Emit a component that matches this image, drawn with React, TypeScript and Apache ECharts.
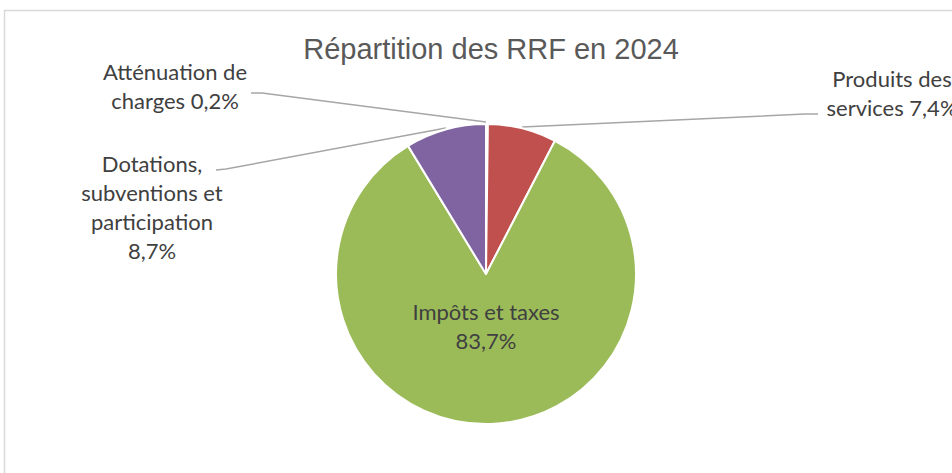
import React, { useEffect, useRef } from "react";
import * as echarts from "echarts";

const TITLE = "Répartition des RRF en 2024";
const categories = [
  "Atténuation de charges",
  "Produits des services",
  "Impôts et taxes",
  "Dotations, subventions et participation",
];
const values = [0.2, 7.4, 83.7, 8.7];
const colors = ["#4F81BD", "#C0504D", "#9BBB59", "#8064A2"];
// how each label is broken into lines (text before the value)
const labelTexts = [
  "Atténuation de\ncharges ",
  "Produits des\nservices ",
  "Impôts et taxes\n",
  "Dotations,\nsubventions et\nparticipation\n",
];

const fmtPct = (v: number) => v.toFixed(1).replace(".", ",") + "%";

export default function App() {
  const ref = useRef<HTMLDivElement>(null);
  useEffect(() => {
    if (!ref.current) return;
    const chart = echarts.init(ref.current, undefined, { renderer: "svg" });
    const cx = 486;
    const cy = 274;
    const layouts: any[] = [
      { x: 175, y: 86, align: "center", pts: [[251, 93], [262, 93], [486, 122]] },
      { x: 892, y: 93, align: "center", pts: [[818, 114], [805, 114], [522, 127]] },
      { x: 486, y: 326, align: "center", pts: null },
      { x: 152, y: 207, align: "center", pts: [[216, 170], [226, 169], [446, 128]] },
    ];
    chart.setOption({
      animation: false,
      title: {
        text: TITLE,
        left: 486,
        textAlign: "center",
        top: 29,
        textStyle: {
          fontFamily: "Liberation Sans",
          fontSize: 29,
          fontWeight: "normal",
          color: "#595959",
        },
      },
      graphic: [
        {
          type: "rect",
          shape: { x: 4.5, y: 10.5, width: 1000, height: 600 },
          style: { fill: "none", stroke: "#d9d9d9", lineWidth: 1.5 },
          silent: true,
        },
      ],
      series: [
        {
          type: "pie",
          center: [cx, cy],
          radius: 150,
          startAngle: 90,
          clockwise: true,
          avoidLabelOverlap: false,
          itemStyle: { borderColor: "#ffffff", borderWidth: 2 },
          label: {
            show: true,
            position: "outside",
            fontFamily: "Lato",
            fontSize: 22,
            lineHeight: 29,
            color: "#404040",
            align: "center",
            formatter: (p: any) => labelTexts[p.dataIndex] + fmtPct(p.value),
          },
          labelLine: {
            show: true,
            lineStyle: { color: "#a6a6a6", width: 1.5 },
          },
          labelLayout: (p: any) => {
            const l = layouts[p.dataIndex];
            const res: any = {
              x: l.x,
              y: l.y,
              align: l.align,
              verticalAlign: "middle",
            };
            if (l.pts) res.labelLinePoints = l.pts;
            return res;
          },
          data: categories.map((c, i) => ({
            name: c,
            value: values[i],
            itemStyle: { color: colors[i] },
            label: i === 2 ? { position: "inside" } : undefined,
            labelLine: i === 2 ? { show: false } : undefined,
          })),
        },
      ],
    });
    return () => chart.dispose();
  }, []);
  return (
    <div
      ref={ref}
      style={{ position: "absolute", left: 0, top: 0, width: 952, height: 473 }}
    />
  );
}
